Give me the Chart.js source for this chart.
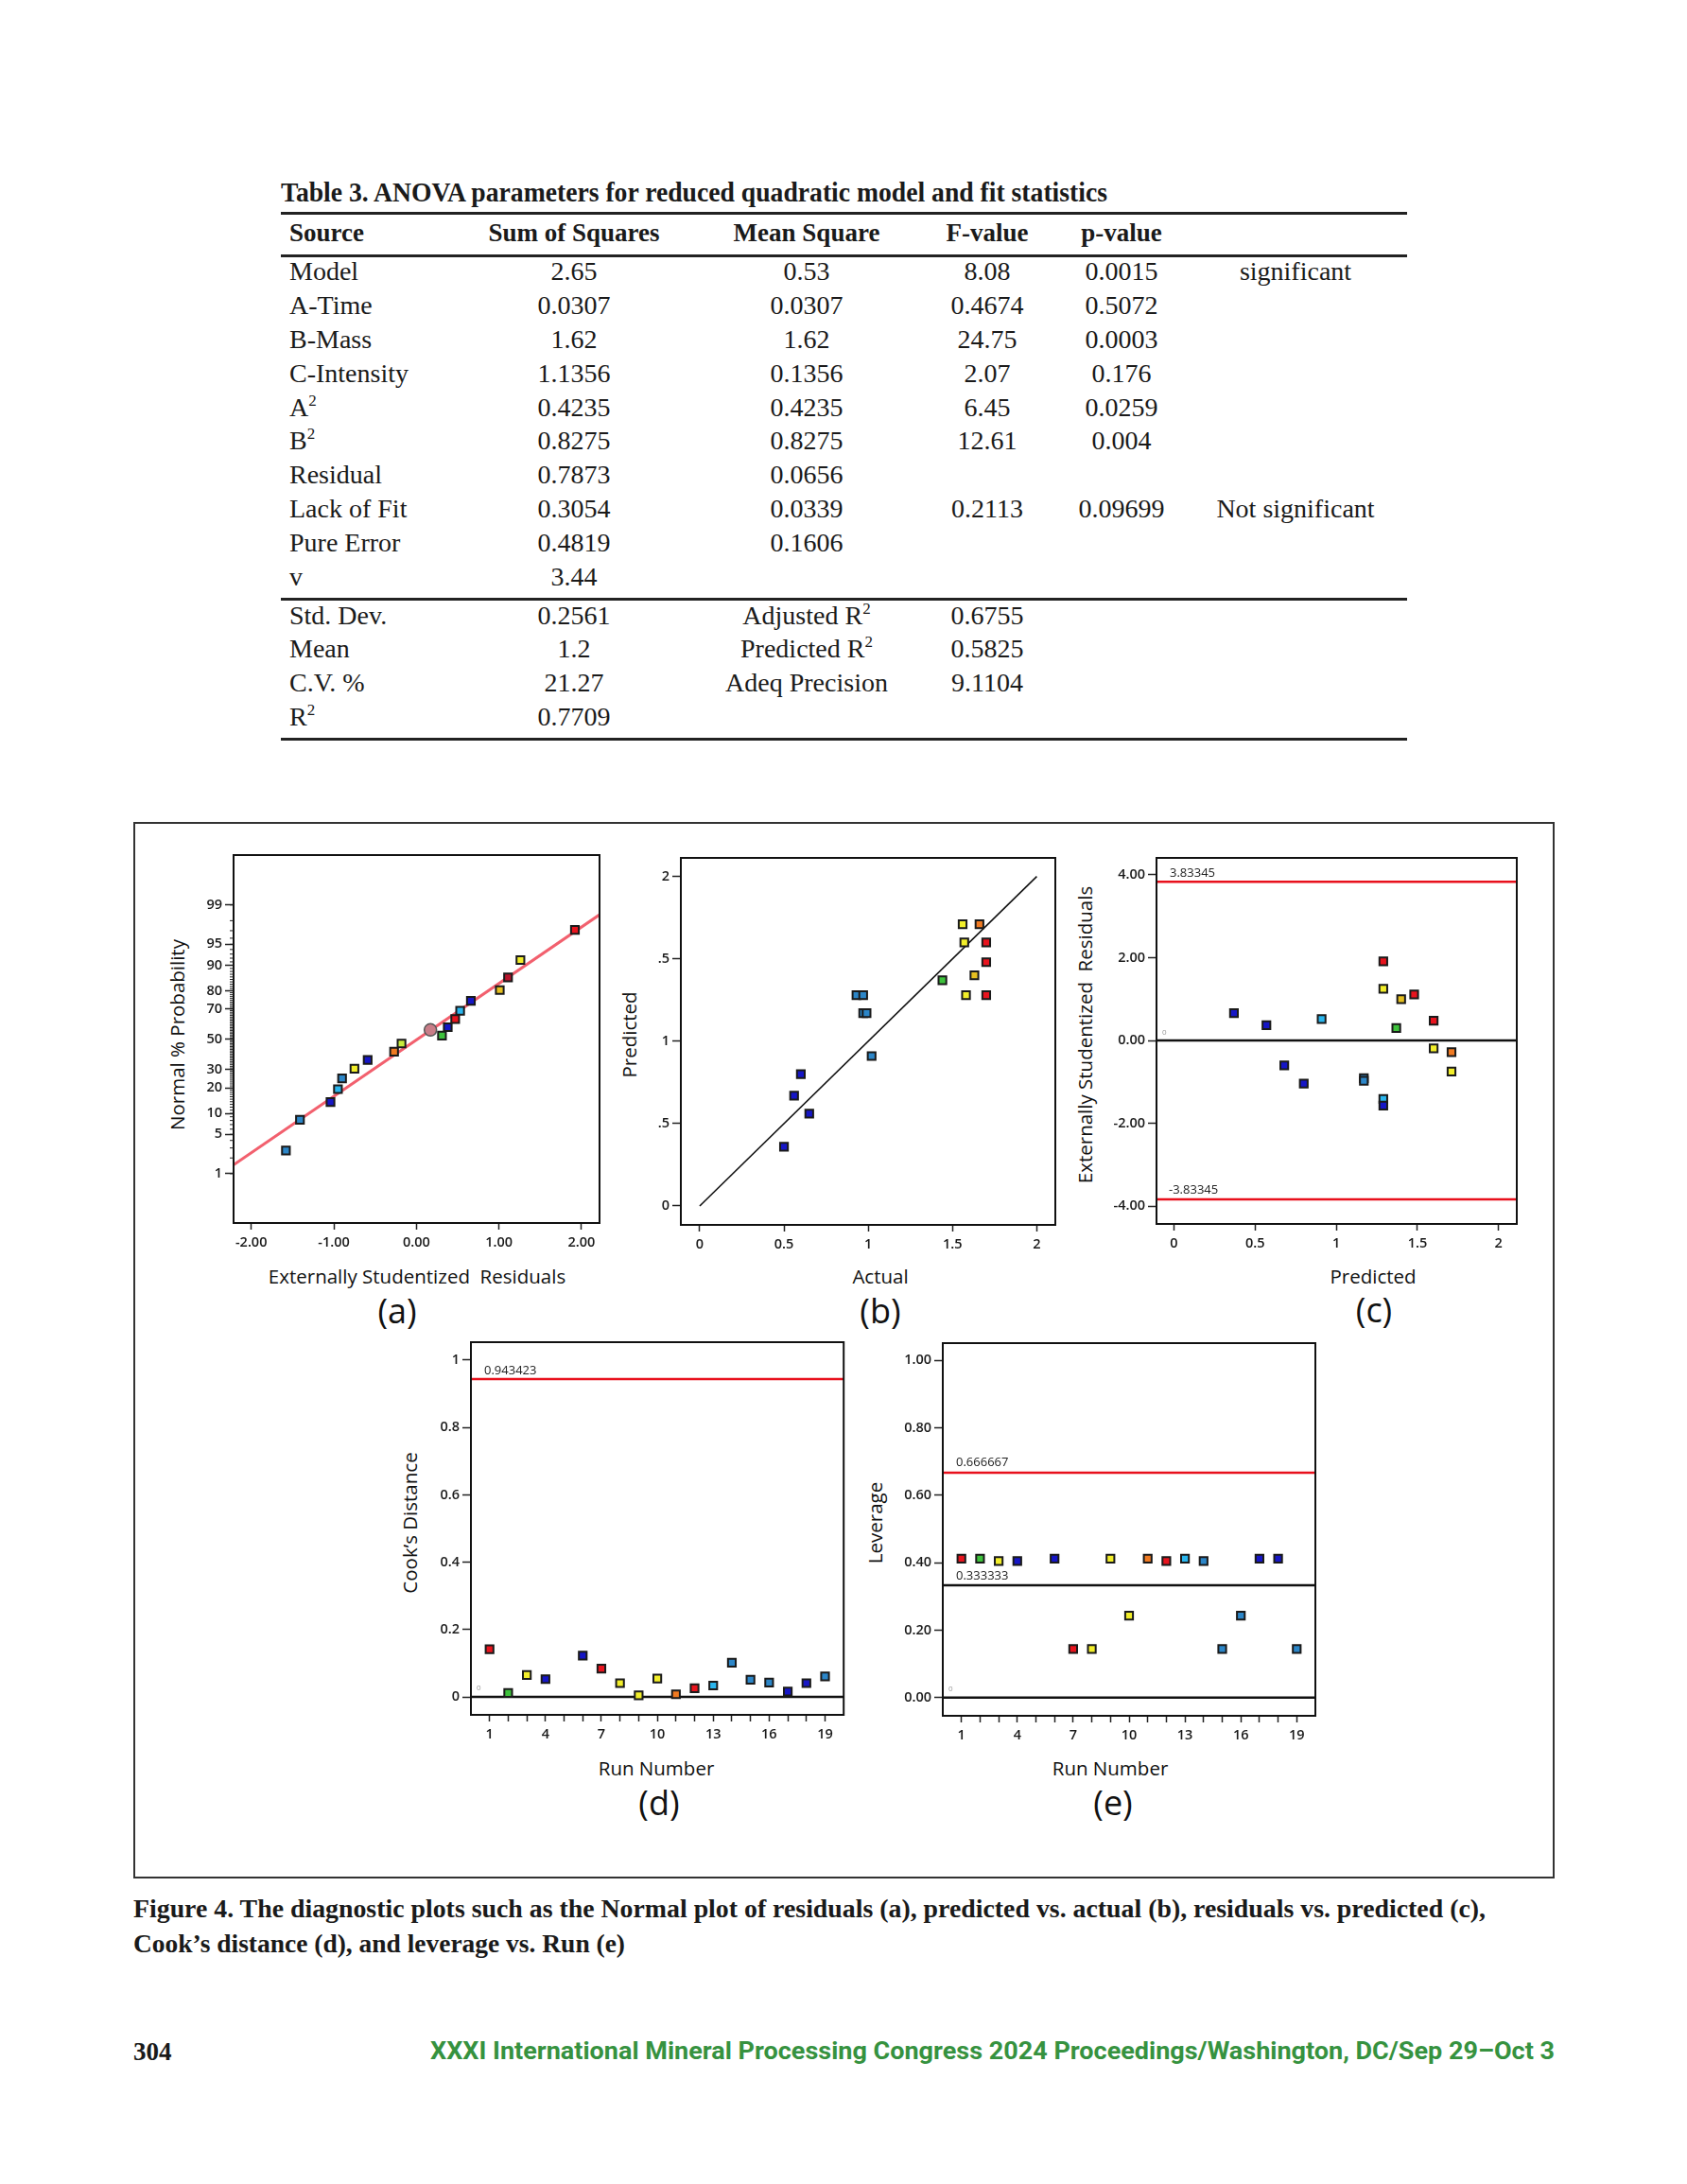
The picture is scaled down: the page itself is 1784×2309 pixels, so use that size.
<!DOCTYPE html>
<html>
<head>
<meta charset="utf-8">
<script src="https://cdn.jsdelivr.net/npm/chart.js@4.4.1/dist/chart.umd.min.js"></script>
<style>
  html, body { margin: 0; padding: 0; background: #fff; }
  #page { position: relative; width: 1784px; height: 2309px; overflow: hidden; background: #fff; }
  .serif { font-family: 'Liberation Serif', 'Times New Roman', serif; color: #1a1a1a; }
  .cell { position: absolute; height: 36px; line-height: 36px; white-space: nowrap; font-size: 28px; }
  .cell sup { font-size: 17px; line-height: 0; vertical-align: 11px; }
  .rule { position: absolute; left: 297px; width: 1191px; height: 2.5px; background: #222; }
  .lbl { position: absolute; font-family: 'Open Sans', sans-serif; color: #111; white-space: nowrap; line-height: 1; transform: translate(-50%, -50%); }
  .ylbl { transform: translate(-50%, -50%) rotate(-90deg); }
  canvas { position: absolute; }
</style>
</head>
<body>
<div id="page"></div>
<script>
// ---- table 3 ----
const sources = ['Model', 'A-Time', 'B-Mass', 'C-Intensity', 'A<sup>2</sup>', 'B<sup>2</sup>', 'Residual', 'Lack of Fit', 'Pure Error', 'v'];
const sumSquares = ['2.65', '0.0307', '1.62', '1.1356', '0.4235', '0.8275', '0.7873', '0.3054', '0.4819', '3.44'];
const meanSquare = ['0.53', '0.0307', '1.62', '0.1356', '0.4235', '0.8275', '0.0656', '0.0339', '0.1606', ''];
const fValue = ['8.08', '0.4674', '24.75', '2.07', '6.45', '12.61', '', '0.2113', '', ''];
const pValue = ['0.0015', '0.5072', '0.0003', '0.176', '0.0259', '0.004', '', '0.09699', '', ''];
const remark = ['significant', '', '', '', '', '', '', 'Not significant', '', ''];
const fitNames = ['Std. Dev.', 'Mean', 'C.V. %', 'R<sup>2</sup>'];
const fitValues = ['0.2561', '1.2', '21.27', '0.7709'];
const fitNames2 = ['Adjusted R<sup>2</sup>', 'Predicted R<sup>2</sup>', 'Adeq Precision', ''];
const fitValues2 = ['0.6755', '0.5825', '9.1104', ''];

// ---- (a) normal plot of residuals ----
const aResid = [-1.58, -1.41, -1.04, -0.95, -0.90, -0.75, -0.59, -0.27, -0.18, 0.31, 0.38, 0.47, 0.53, 0.66, 1.01, 1.11, 1.26, 1.92];
const aProb = [2.7, 8.2, 13.9, 19.4, 24.9, 30.6, 36.1, 41.5, 47.1, 52.5, 58.3, 63.7, 69.0, 74.7, 80.3, 85.8, 91.5, 97.1];
const aColor = ['steel', 'steel', 'blue', 'cyan', 'steel', 'yellow', 'blue', 'orange', 'ygreen', 'green', 'blue', 'red', 'cyan', 'blue', 'gold', 'dred', 'yellow', 'red'];
const aMarkResid = [0.17];
const aMarkProb = [56.5];
const aFitResid = [-2.214, 2.218];
const aFitProb = [1.49, 98.45];
const aProbTicks = [1, 5, 10, 20, 30, 50, 70, 80, 90, 95, 99];
const aResidTicks = [-2, -1, 0, 1, 2];
const aResidLabels = ['-2.00', '-1.00', '0.00', '1.00', '2.00'];

// ---- (b) predicted vs actual ----
const bActual = [0.50, 0.56, 0.60, 0.65, 0.93, 0.97, 0.97, 0.99, 1.02, 1.44, 1.56, 1.66, 1.57, 1.70, 1.70, 1.63, 1.58, 1.70];
const bPred = [0.36, 0.67, 0.80, 0.56, 1.28, 1.28, 1.17, 1.17, 0.91, 1.37, 1.71, 1.71, 1.60, 1.60, 1.48, 1.40, 1.28, 1.28];
const bColor = ['blue', 'blue', 'blue', 'blue', 'steel', 'steel', 'steel', 'steel', 'steel', 'green', 'yellow', 'orange', 'yellow', 'red', 'red', 'gold', 'yellow', 'red'];
const bTicks = [0, 0.5, 1, 1.5, 2];
const bXLabels = ['0', '0.5', '1', '1.5', '2'];
const bYLabels = ['0', '.5', '1', '.5', '2'];

// ---- (c) residuals vs predicted ----
const cPred = [0.37, 0.57, 0.68, 0.80, 0.91, 1.17, 1.17, 1.29, 1.29, 1.29, 1.29, 1.37, 1.40, 1.48, 1.60, 1.60, 1.71, 1.71];
const cResid = [0.66, 0.37, -0.60, -1.04, 0.52, -0.91, -0.97, 1.91, 1.25, -1.41, -1.57, 0.30, 1.00, 1.11, 0.48, -0.19, -0.28, -0.75];
const cColor = ['blue', 'blue', 'blue', 'blue', 'cyan', 'steel', 'steel', 'red', 'yellow', 'cyan', 'blue', 'green', 'gold', 'red', 'red', 'yellow', 'orange', 'yellow'];
const cLimit = 3.83345;
const cYTicks = [-4, -2, 0, 2, 4];
const cYLabels = ['-4.00', '-2.00', '0.00', '2.00', '4.00'];

// ---- (d) Cook's distance, (e) leverage ----
const runNumber = [1, 2, 3, 4, 6, 7, 8, 9, 10, 11, 12, 13, 14, 15, 16, 17, 18, 19];
const runColor = ['red', 'green', 'yellow', 'blue', 'blue', 'red', 'yellow', 'yellow', 'yellow', 'orange', 'red', 'cyan', 'steel', 'steel', 'steel', 'blue', 'blue', 'steel'];
const cooks = [0.142, 0.012, 0.065, 0.053, 0.123, 0.084, 0.041, 0.005, 0.055, 0.008, 0.026, 0.034, 0.102, 0.051, 0.043, 0.016, 0.041, 0.061];
const leverage = [0.412, 0.412, 0.405, 0.405, 0.412, 0.144, 0.144, 0.412, 0.243, 0.412, 0.405, 0.412, 0.405, 0.144, 0.243, 0.412, 0.412, 0.144];
const dLimit = 0.943423;
const eLimits = [0.666667, 0.333333];
const runTicks = [1, 2, 3, 4, 5, 6, 7, 8, 9, 10, 11, 12, 13, 14, 15, 16, 17, 18, 19];
const runLabels = ['1', '', '', '4', '', '', '7', '', '', '10', '', '', '13', '', '', '16', '', '', '19'];
const dYTicks = [0, 0.2, 0.4, 0.6, 0.8, 1];
const dYLabels = ['0', '0.2', '0.4', '0.6', '0.8', '1'];
const eYTicks = [0, 0.2, 0.4, 0.6, 0.8, 1];
const eYLabels = ['0.00', '0.20', '0.40', '0.60', '0.80', '1.00'];

const palette = {
  blue: '#1616c6', steel: '#2c86c8', cyan: '#2ab6ee', green: '#3ec23c', ygreen: '#c8ec3c',
  yellow: '#f2ee2a', gold: '#e6c020', orange: '#f07a22', red: '#e8141e', dred: '#b8142c'
};

const page = document.getElementById('page');

function put(html, css, cls) {
  const d = document.createElement('div');
  d.className = cls || '';
  d.style.cssText = css;
  d.innerHTML = html;
  page.appendChild(d);
  return d;
}

// squeeze a line of text to a measured width (the source face is narrower)
function fitWidth(el, w) {
  const r = el.getBoundingClientRect().width;
  el.style.transformOrigin = 'left center';
  el.style.transform = 'scaleX(' + (w / r) + ')';
}

// ---------- table ----------
const title = put('Table 3. ANOVA parameters for reduced quadratic model and fit statistics',
  'position:absolute;left:297px;top:186px;font-size:29px;line-height:34px;font-weight:bold;white-space:nowrap;', 'serif');
fitWidth(title, 874);

[225, 270, 633, 781].forEach(y => put('', 'top:' + (y - 1) + 'px;', 'rule'));

const colX = [607, 853, 1044, 1186, 1370];
function cellLeft(text, x, cy, extra) {
  return put(text, 'left:' + x + 'px;top:' + (cy - 18) + 'px;' + (extra || ''), 'cell serif');
}
function cellMid(text, x, cy, extra) {
  return put(text, 'left:' + (x - 150) + 'px;width:300px;text-align:center;top:' + (cy - 18) + 'px;' + (extra || ''), 'cell serif');
}

const hdr = 'font-weight:bold;font-size:27px;';
cellLeft('Source', 306, 246, hdr);
['Sum of Squares', 'Mean Square', 'F-value', 'p-value'].forEach((t, i) => cellMid(t, colX[i], 246, hdr));

sources.forEach((s, i) => {
  const cy = 287.3 + i * 35.8;
  cellLeft(s, 306, cy);
  cellMid(sumSquares[i], colX[0], cy);
  cellMid(meanSquare[i], colX[1], cy);
  cellMid(fValue[i], colX[2], cy);
  cellMid(pValue[i], colX[3], cy);
  cellMid(remark[i], colX[4], cy);
});
fitNames.forEach((s, i) => {
  const cy = 650.5 + i * 35.8;
  cellLeft(s, 306, cy);
  cellMid(fitValues[i], colX[0], cy);
  cellMid(fitNames2[i], colX[1], cy);
  cellMid(fitValues2[i], colX[2], cy);
});

// ---------- figure frame, caption, footer ----------
put('', 'position:absolute;left:141px;top:869px;width:1499px;height:1113px;border:2px solid #333;');
const cap1 = put('Figure 4. The diagnostic plots such as the Normal plot of residuals (a), predicted vs. actual (b), residuals vs. predicted (c),',
  'position:absolute;left:141px;top:2001px;font-size:27px;line-height:34px;font-weight:bold;white-space:nowrap;', 'serif');
fitWidth(cap1, 1430);
const cap2 = put('Cook’s distance (d), and leverage vs. Run (e)',
  'position:absolute;left:141px;top:2038px;font-size:27px;line-height:34px;font-weight:bold;white-space:nowrap;', 'serif');
fitWidth(cap2, 520);
put('304', 'position:absolute;left:141px;top:2152px;font-size:27px;line-height:34px;font-weight:bold;', 'serif');
const foot = put('XXXI International Mineral Processing Congress 2024 Proceedings/Washington, DC/Sep 29–Oct 3',
  'position:absolute;left:455px;top:2153px;font-family:Roboto,sans-serif;font-size:25px;line-height:32px;font-weight:700;color:#36923f;white-space:nowrap;');
fitWidth(foot, 1189);

// ---------- axis titles and panel labels ----------
function label(text, x, y, size, rotate) {
  put(text, 'left:' + x + 'px;top:' + y + 'px;font-size:' + size + 'px;', rotate ? 'lbl ylbl' : 'lbl');
}
label('Normal % Probability', 187, 1094, 20.5, true);
label('Externally Studentized&nbsp; Residuals', 441, 1349, 20.5);
label('(a)', 420, 1386, 36);
label('Predicted', 665, 1094, 20.5, true);
label('Actual', 931, 1349, 20.5);
label('(b)', 931, 1386, 36);
label('Externally Studentized&nbsp; Residuals', 1147, 1094, 20.5, true);
label('Predicted', 1452, 1349, 20.5);
label('(c)', 1453, 1385, 36);
label('Cook’s Distance', 433, 1610, 20.5, true);
label('Run Number', 694, 1869, 20.5);
label('(d)', 697, 1906, 36);
label('Leverage', 925, 1610, 20.5, true);
label('Run Number', 1174, 1869, 20.5);
label('(e)', 1177, 1906, 36);

// ---------- charts ----------
// inverse normal CDF (Acklam), percent -> z, used for the normal probability axis
function probit(pct) {
  const q = pct / 100;
  const a = [-39.6968302866538, 220.946098424521, -275.928510446969, 138.357751867269, -30.6647980661472, 2.50662827745924];
  const b = [-54.4760987982241, 161.585836858041, -155.698979859887, 66.8013118877197, -13.2806815528857];
  const c = [-0.00778489400243029, -0.322396458041136, -2.40075827716184, -2.54973253934373, 4.37466414146497, 2.93816398269878];
  const d = [0.00778469570904146, 0.32246712907004, 2.445134137143, 3.75440866190742];
  const tail = r => (((((c[0] * r + c[1]) * r + c[2]) * r + c[3]) * r + c[4]) * r + c[5]) / ((((d[0] * r + d[1]) * r + d[2]) * r + d[3]) * r + 1);
  if (q < 0.02425) return tail(Math.sqrt(-2 * Math.log(q)));
  if (q > 1 - 0.02425) return -tail(Math.sqrt(-2 * Math.log(1 - q)));
  const s = q - 0.5, r = s * s;
  return (((((a[0] * r + a[1]) * r + a[2]) * r + a[3]) * r + a[4]) * r + a[5]) * s /
    (((((b[0] * r + b[1]) * r + b[2]) * r + b[3]) * r + b[4]) * r + 1);
}

const pts = (xs, ys) => xs.map((x, i) => ({ x: x, y: ys[i] }));

function points(xs, ys, colors) {
  return {
    data: pts(xs, ys), showLine: false, pointStyle: 'rect', pointRadius: 5.8,
    pointBackgroundColor: colors.map(k => palette[k]), pointBorderColor: '#1a1a1a', pointBorderWidth: 2
  };
}
function line(xs, ys, color, width) {
  return { data: pts(xs, ys), showLine: true, borderColor: color, borderWidth: width, pointRadius: 0, fill: false };
}

const tickFont = { family: 'Open Sans', size: 14.5, weight: '600' };

function drawChart(cfg) {
  const [cx, cy, cw, ch] = cfg.canvas;
  const [L, T, R, B] = cfg.plot;
  const cv = document.createElement('canvas');
  cv.width = cw; cv.height = ch;
  cv.style.left = cx + 'px'; cv.style.top = cy + 'px';
  cv.style.width = cw + 'px'; cv.style.height = ch + 'px';
  page.appendChild(cv);

  const axis = (a, isX) => ({
    type: 'linear', min: a.min, max: a.max,
    afterBuildTicks: s => { s.ticks = a.ticks.map(v => ({ value: v })); },
    afterFit: s => {
      if (isX) s.height = cy + ch - B; else s.width = L - cx;
      s.paddingLeft = 0; s.paddingRight = 0; s.paddingTop = 0; s.paddingBottom = 0;
    },
    ticks: { autoSkip: false, maxRotation: 0, padding: isX ? 5 : 3, font: tickFont, color: '#1a1a1a', callback: (v, i) => a.labels[i] },
    grid: { drawOnChartArea: false, tickLength: isX ? 7 : 9, tickWidth: 1.5, tickColor: '#222' },
    border: { display: true, width: 2, color: '#111' }
  });

  const frame = {
    id: 'frame',
    afterDraw(chart) {
      const { ctx, chartArea: ca, scales } = chart;
      ctx.save();
      ctx.strokeStyle = '#111';
      ctx.lineWidth = 2;
      ctx.strokeRect(ca.left, ca.top, ca.right - ca.left, ca.bottom - ca.top);
      if (cfg.minor) {
        ctx.lineWidth = 1;
        ctx.strokeStyle = '#222';
        cfg.minor.forEach(v => {
          const y = scales.y.getPixelForValue(v);
          ctx.beginPath(); ctx.moveTo(ca.left - 4, y); ctx.lineTo(ca.left, y); ctx.stroke();
        });
      }
      (cfg.notes || []).forEach(n => {
        ctx.font = n.size + 'px "Open Sans"';
        ctx.fillStyle = n.color || '#222';
        ctx.textAlign = 'left';
        ctx.textBaseline = 'middle';
        ctx.fillText(n.text, ca.left + n.dx, scales.y.getPixelForValue(n.value) + n.dy);
      });
      ctx.restore();
    }
  };

  new Chart(cv, {
    type: 'scatter',
    data: { datasets: cfg.datasets },
    options: {
      responsive: false, animation: false, devicePixelRatio: 1,
      layout: { padding: { left: 0, top: T - cy, right: cx + cw - R, bottom: 0 } },
      plugins: { legend: { display: false }, tooltip: { enabled: false } },
      scales: { x: axis(cfg.x, true), y: axis(cfg.y, false) }
    },
    plugins: [frame]
  });
}

const aXmin = -2.214, aXmax = 2.218;
const aMinor = [];
for (let p = 1; p <= 99; p++) aMinor.push(probit(p));

// (a)
drawChart({
  canvas: [195, 885, 450, 450], plot: [247, 904, 634, 1293],
  x: { min: aXmin, max: aXmax, ticks: aResidTicks, labels: aResidLabels },
  y: { min: -3.18, max: 3.19, ticks: aProbTicks.map(probit), labels: aProbTicks.map(String) },
  minor: aMinor,
  datasets: [
    { data: pts(aMarkResid, aMarkProb.map(probit)), showLine: false, pointStyle: 'circle', pointRadius: 6.5,
      pointBackgroundColor: '#c97d88', pointBorderColor: '#555', pointBorderWidth: 1.5 },
    points(aResid, aProb.map(probit), aColor),
    line(aFitResid, aFitProb.map(probit), '#f2606e', 3)
  ]
});

// (b)
drawChart({
  canvas: [670, 885, 455, 450], plot: [720, 907, 1116, 1295],
  x: { min: -0.112, max: 2.11, ticks: bTicks, labels: bXLabels },
  y: { min: -0.115, max: 2.113, ticks: bTicks, labels: bYLabels },
  datasets: [
    points(bActual, bPred, bColor),
    line([0, 2], [0, 2], '#111', 1.6)
  ]
});

// (c)
const cXmin = -0.107, cXmax = 2.112;
drawChart({
  canvas: [1160, 885, 455, 450], plot: [1223, 907, 1604, 1294],
  x: { min: cXmin, max: cXmax, ticks: bTicks, labels: bXLabels },
  y: { min: -4.43, max: 4.41, ticks: cYTicks, labels: cYLabels },
  notes: [
    { text: '3.83345', value: cLimit, dx: 14, dy: -9, size: 13 },
    { text: '-3.83345', value: -cLimit, dx: 13, dy: -10, size: 13 },
    { text: '0', value: 0, dx: 6, dy: -8, size: 8, color: '#999' }
  ],
  datasets: [
    points(cPred, cResid, cColor),
    line([cXmin, cXmax], [cLimit, cLimit], '#e8101c', 2.5),
    line([cXmin, cXmax], [-cLimit, -cLimit], '#e8101c', 2.5),
    line([cXmin, cXmax], [0, 0], '#111', 2.5)
  ]
});

// (d)
drawChart({
  canvas: [450, 1405, 450, 445], plot: [498, 1419, 893, 1813],
  x: { min: 0, max: 20, ticks: runTicks, labels: runLabels },
  y: { min: -0.053, max: 1.053, ticks: dYTicks, labels: dYLabels },
  notes: [
    { text: '0.943423', value: dLimit, dx: 14, dy: -8.5, size: 13 },
    { text: '0', value: 0, dx: 6, dy: -9, size: 8, color: '#999' }
  ],
  datasets: [
    points(runNumber, cooks, runColor),
    line([0, 20], [dLimit, dLimit], '#e8101c', 2.5),
    line([0, 20], [0, 0], '#111', 2.5)
  ]
});

// (e)
drawChart({
  canvas: [950, 1405, 450, 445], plot: [997, 1420, 1391, 1814],
  x: { min: 0, max: 20, ticks: runTicks, labels: runLabels },
  y: { min: -0.054, max: 1.051, ticks: eYTicks, labels: eYLabels },
  notes: [
    { text: '0.666667', value: eLimits[0], dx: 14, dy: -10.5, size: 13 },
    { text: '0.333333', value: eLimits[1], dx: 14, dy: -10, size: 13 },
    { text: '0', value: 0, dx: 6, dy: -9, size: 8, color: '#999' }
  ],
  datasets: [
    points(runNumber, leverage, runColor),
    line([0, 20], [eLimits[0], eLimits[0]], '#e8101c', 2.5),
    line([0, 20], [eLimits[1], eLimits[1]], '#111', 2.5),
    line([0, 20], [0, 0], '#111', 2.5)
  ]
});
</script>
</body>
</html>
